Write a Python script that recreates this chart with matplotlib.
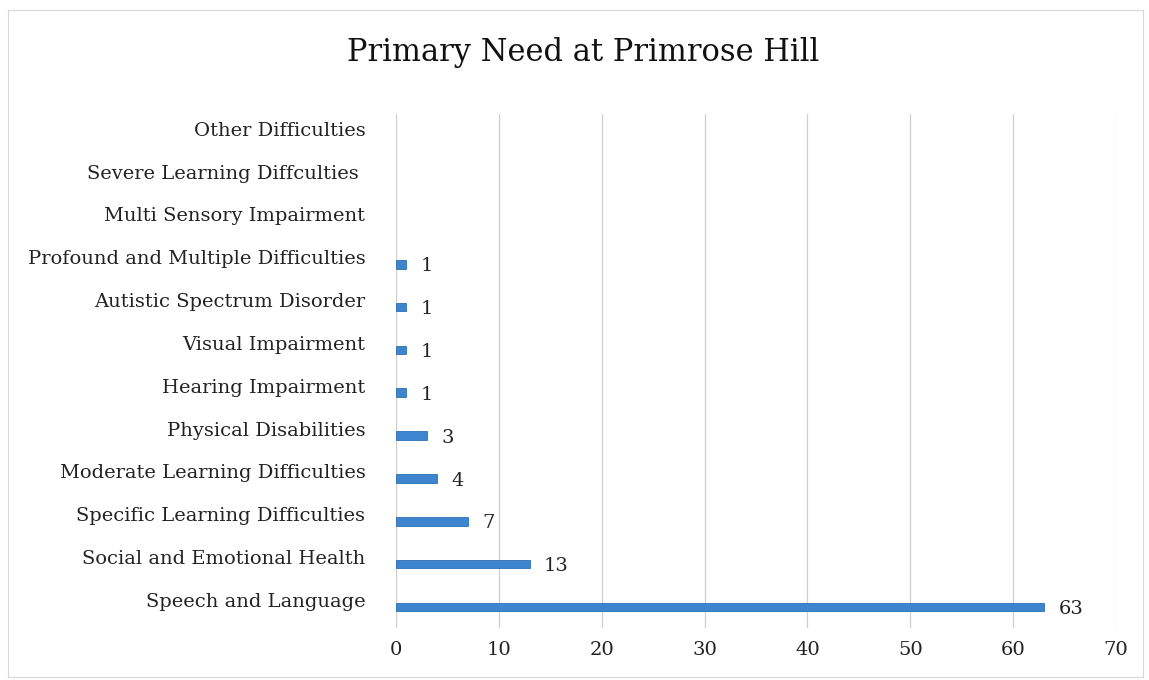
import matplotlib.pyplot as plt
from matplotlib.patches import Rectangle
import matplotlib.transforms as mtransforms

categories = ["Speech and Language", "Social and Emotional Health",
              "Specific Learning Difficulties", "Moderate Learning Difficulties",
              "Physical Disabilities", "Hearing Impairment", "Visual Impairment",
              "Autistic Spectrum Disorder", "Profound and Multiple Difficulties",
              "Multi Sensory Impairment", "Severe Learning Diffculties ",
              "Other Difficulties"]
values = [63, 13, 7, 4, 3, 1, 1, 1, 1, None, None, None]
xticks = [0, 10, 20, 30, 40, 50, 60, 70]

plt.rcParams['font.family'] = ['DejaVu Serif']

fig = plt.figure(figsize=(11.49, 6.80), dpi=100)
fig.patches.append(Rectangle((0.007, 0.004), 0.988, 0.982, transform=fig.transFigure,
                             fill=False, edgecolor='#d8d8d8', linewidth=0.8))
ax = fig.add_axes([0.3446, 0.0759, 0.6267, 0.756])

ys = list(range(len(categories)))
for y, v in zip(ys, values):
    if v is None:
        continue
    ax.barh(y, v, height=0.2, color='#3d86cf', edgecolor='#2f6fb5', linewidth=0.6, zorder=3)
    ax.text(v + 1.4, y - 0.05, str(v), va='center', ha='left', fontsize=14, color='#222222')

ax.set_xlim(0, 70)
ax.set_ylim(-0.5, len(categories) - 0.5)
ax.set_xticks(xticks)
ax.set_xticklabels([str(t) for t in xticks], fontsize=14, color='#222222')
ax.set_yticks(ys)
ax.set_yticklabels(categories, fontsize=14, color='#222222')
ax.tick_params(axis='both', length=0)
ax.tick_params(axis='x', pad=9)
ax.tick_params(axis='y', pad=22)
off = mtransforms.ScaledTranslation(0, 7 / 100, fig.dpi_scale_trans)
for lab in ax.get_yticklabels():
    lab.set_transform(lab.get_transform() + off)
for s in ax.spines.values():
    s.set_visible(False)
ax.grid(axis='x', color='#cfcfcf', linewidth=0.9, zorder=0)
ax.set_axisbelow(True)

fig.text(0.5075, 0.923, "Primary Need at Primrose Hill", ha='center', va='center',
         fontsize=22, color='#111111')

fig.savefig('out.png', dpi=100)
